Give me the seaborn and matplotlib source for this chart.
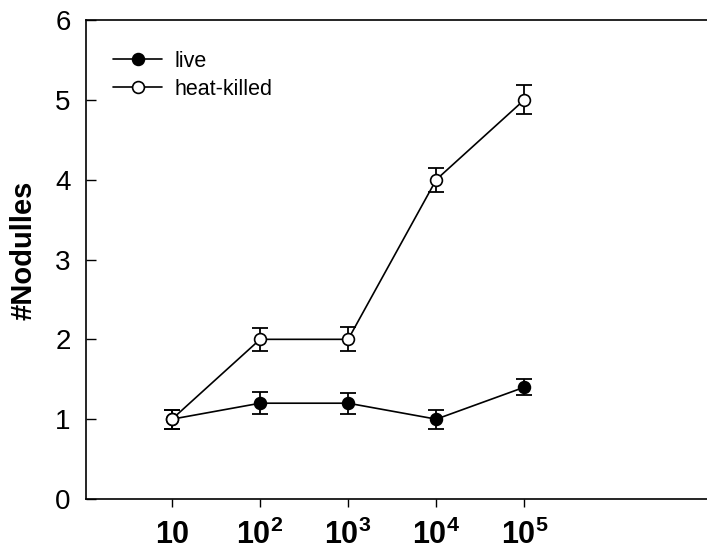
import matplotlib
matplotlib.use("Agg")
import matplotlib.pyplot as plt
import seaborn as sns
import pandas as pd

doses = ["10", "10^2", "10^3", "10^4", "10^5"]
tick_labels = [r"$\mathbf{10}$", r"$\mathbf{10^2}$", r"$\mathbf{10^3}$", r"$\mathbf{10^4}$", r"$\mathbf{10^5}$"]
live = [1.0, 1.2, 1.2, 1.0, 1.4]
live_err = [0.12, 0.14, 0.13, 0.12, 0.10]
heat = [1.0, 2.0, 2.0, 4.0, 5.0]
heat_err = [0.12, 0.14, 0.15, 0.15, 0.18]

sns.set_style("ticks")
plt.rcParams["font.family"] = ["Liberation Sans", "DejaVu Sans"]
plt.rcParams["mathtext.fontset"] = "custom"
plt.rcParams["mathtext.bf"] = "Liberation Sans:bold"
plt.rcParams["mathtext.rm"] = "Liberation Sans:bold"
plt.rcParams["text.color"] = "black"
plt.rcParams["xtick.color"] = "black"
plt.rcParams["ytick.color"] = "black"
plt.rcParams["axes.labelcolor"] = "black"
plt.rcParams["axes.edgecolor"] = "black"

pos = list(range(len(doses)))
df = pd.DataFrame({
    "x": pos + pos,
    "y": live + heat,
    "group": ["live"] * 5 + ["heat-killed"] * 5,
})

fig = plt.figure(figsize=(7.07, 5.52), dpi=100)
ax = fig.add_axes([86 / 707, 53 / 552, 625 / 707, 479 / 552])

ax.errorbar(pos, live, yerr=live_err, fmt="none", ecolor="black", elinewidth=1.3, capsize=6, capthick=1.3, zorder=2)
ax.errorbar(pos, heat, yerr=heat_err, fmt="none", ecolor="black", elinewidth=1.3, capsize=6, capthick=1.3, zorder=2)

sns.lineplot(data=df[df.group == "live"], x="x", y="y", ax=ax, color="black", lw=1.2,
             marker="o", markersize=8.5, markerfacecolor="black", markeredgecolor="black",
             markeredgewidth=1.2, label="live", zorder=3)
sns.lineplot(data=df[df.group == "heat-killed"], x="x", y="y", ax=ax, color="black", lw=1.2,
             marker="o", markersize=8.5, markerfacecolor="white", markeredgecolor="black",
             markeredgewidth=1.2, label="heat-killed", zorder=3)

ax.set_xlim(-0.977, 6.12)
ax.set_ylim(0, 6)
ax.set_xticks(pos)
ax.set_xticklabels(tick_labels, fontsize=22)
ax.set_yticks(range(7))
ax.tick_params(axis="y", direction="in", length=7, width=1, labelsize=20, pad=11)
ax.tick_params(axis="x", direction="out", length=6, width=1, pad=9)
ax.set_xlabel("")
ax.set_ylabel("#Nodulles", fontsize=21, fontweight="bold")
ax.yaxis.set_label_coords(-0.077, 0.52)
for s in ax.spines.values():
    s.set_linewidth(1.2)
    s.set_color("black")

leg = ax.legend(loc="upper left", bbox_to_anchor=(0.005, 0.985), frameon=False, fontsize=15.5,
                handlelength=2.3, handletextpad=0.55, labelspacing=0.32, borderaxespad=0.5,
                borderpad=0.6)

fig.savefig("out.png", dpi=100)
